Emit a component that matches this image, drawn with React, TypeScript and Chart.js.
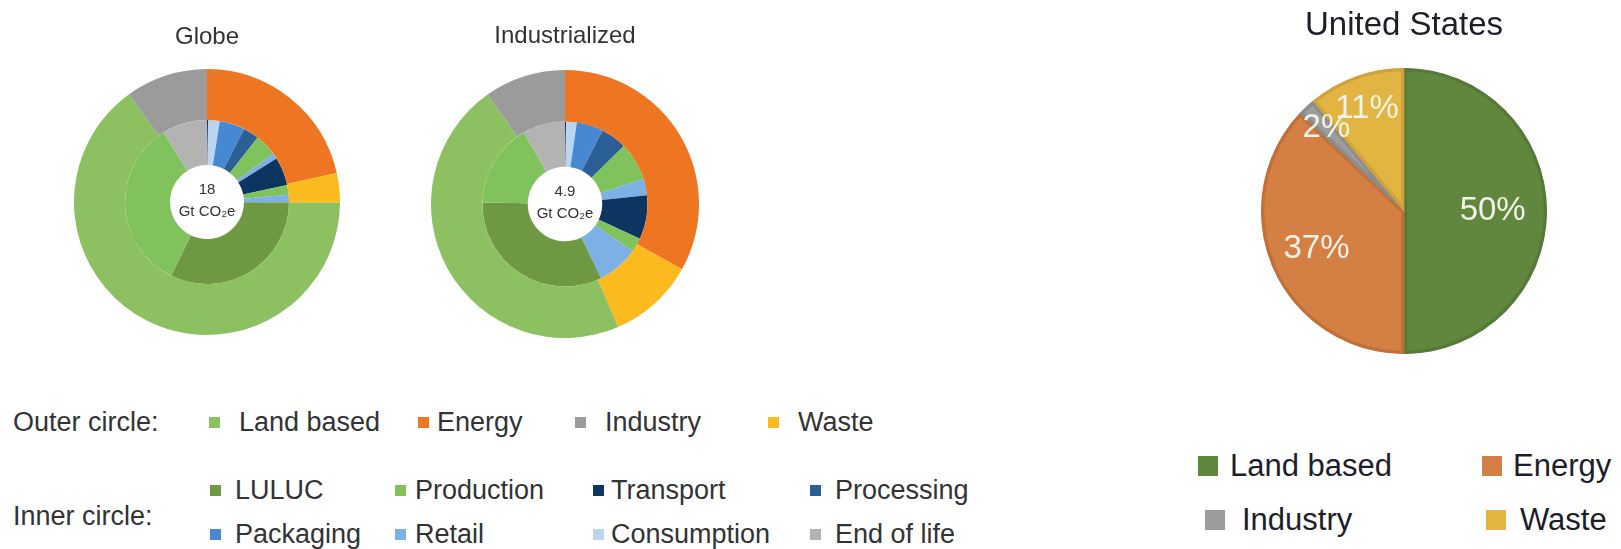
import React, { useEffect, useRef } from "react";
import { Chart, registerables } from "chart.js";

Chart.register(...registerables);

const FONT = '"Liberation Sans", Arial, Helvetica, sans-serif';

// ---------- DATA ----------
// Outer ring (clockwise from 12 o'clock), share of total emissions in %
const outerRingCategories = ["Energy", "Waste", "Land based", "Industry"];
const globeOuterValues = [21.5, 3.6, 64.9, 10.0];
const industrializedOuterValues = [33.1, 10.4, 46.7, 9.8];

// Inner ring (clockwise from 12 o'clock), share of total emissions in %
const innerRingCategories = [
  "Transport",
  "Consumption",
  "Packaging",
  "Processing",
  "Production",
  "Retail",
  "Transport",
  "Production",
  "Retail",
  "LULUC",
  "Production",
  "End of life",
];
const globeInnerValues = [0.2, 2.3, 5.0, 3.1, 4.4, 1.1, 5.6, 1.9, 1.5, 32.1, 33.9, 8.9];
const industrializedInnerValues = [0.2, 2.1, 5.2, 5.1, 7.5, 3.2, 8.6, 2.8, 8.1, 32.5, 16.4, 8.3];

const globeTotal = "18";
const industrializedTotal = "4.9";
const totalUnit = "Gt CO\u2082e";

// United States pie (clockwise from 12 o'clock), %
const usCategories = ["Land based", "Energy", "Industry", "Waste"];
const usValues = [50, 37, 2, 11];

// Legend lists
const outerLegendLabels = ["Land based", "Energy", "Industry", "Waste"];
const innerLegendRow1 = ["LULUC", "Production", "Transport", "Processing"];
const innerLegendRow2 = ["Packaging", "Retail", "Consumption", "End of life"];
const usLegendRow1 = ["Land based", "Energy"];
const usLegendRow2 = ["Industry", "Waste"];

// ---------- STYLES ----------
const outerColors: Record<string, string> = {
  "Land based": "#8CC060",
  Energy: "#EE7623",
  Industry: "#9B9B9B",
  Waste: "#FBBA1E",
};
const innerColors: Record<string, string> = {
  LULUC: "#6E9842",
  Production: "#80C35C",
  Transport: "#0D3562",
  Processing: "#2C5F96",
  Packaging: "#4688D2",
  Retail: "#7DB0E4",
  Consumption: "#BCD5EF",
  "End of life": "#B3B3B3",
};
const usColors: Record<string, string> = {
  "Land based": "#61873E",
  Energy: "#D48044",
  Industry: "#9C9C9C",
  Waste: "#E2B442",
};
const usBorderColors: Record<string, string> = {
  "Land based": "#557A37",
  Energy: "#C2703A",
  Industry: "#8C8C8C",
  Waste: "#D2A33A",
};

const centerTextPlugin = {
  id: "centerText",
  afterDatasetsDraw(chart: any, _args: any, opts: any) {
    if (!opts || !opts.lines) return;
    const arc = chart.getDatasetMeta(0).data[0];
    if (!arc) return;
    const { ctx } = chart;
    ctx.save();
    ctx.font = `${opts.size}px ${FONT}`;
    ctx.fillStyle = opts.color;
    ctx.textAlign = "center";
    ctx.textBaseline = "middle";
    const n = opts.lines.length;
    opts.lines.forEach((line: string, i: number) => {
      ctx.fillText(line, arc.x, arc.y + opts.shift + (i - (n - 1) / 2) * opts.gap);
    });
    ctx.restore();
  },
};

const sliceLabelPlugin = {
  id: "sliceLabels",
  afterDatasetsDraw(chart: any, _args: any, opts: any) {
    if (!opts || !opts.display) return;
    const { ctx } = chart;
    const ds = chart.data.datasets[0];
    const meta = chart.getDatasetMeta(0);
    ctx.save();
    ctx.font = `${opts.size}px ${FONT}`;
    ctx.fillStyle = opts.color;
    ctx.textAlign = "center";
    ctx.textBaseline = "middle";
    meta.data.forEach((arc: any, i: number) => {
      const v = ds.data[i] as number;
      const mid = (arc.startAngle + arc.endAngle) / 2;
      const frac = 0.62 + 0.18 * (1 - v / 50);
      const r = arc.outerRadius * frac;
      ctx.fillText(`${v}%`, arc.x + Math.cos(mid) * r, arc.y + Math.sin(mid) * r);
    });
    ctx.restore();
  },
};

type Box = { left: number; top: number; width: number; height: number; padTop: number; padBottom: number };

function RingChart(props: {
  title: string;
  outerValues: number[];
  innerValues: number[];
  total: string;
  box: Box;
}) {
  const ref = useRef<HTMLCanvasElement | null>(null);
  useEffect(() => {
    if (!ref.current) return;
    const chart = new Chart(ref.current, {
      type: "doughnut",
      data: {
        labels: outerRingCategories,
        datasets: [
          {
            data: props.outerValues,
            backgroundColor: outerRingCategories.map((c) => outerColors[c]),
            borderWidth: 0,
            weight: 51,
          } as any,
          {
            data: props.innerValues,
            backgroundColor: innerRingCategories.map((c) => innerColors[c]),
            borderWidth: 0,
            weight: 45,
          } as any,
        ],
      },
      options: {
        responsive: false,
        animation: false,
        events: [],
        cutout: "27.8%",
        plugins: {
          legend: { display: false },
          tooltip: { enabled: false },
          title: {
            display: true,
            text: props.title,
            color: "#333333",
            font: { family: FONT, size: 24, weight: "normal", lineHeight: 1.2 },
            padding: { top: props.box.padTop, bottom: props.box.padBottom },
          },
          centerText: { lines: [props.total, totalUnit], size: 15, color: "#333333", gap: 22, shift: -1 },
        } as any,
      },
      plugins: [centerTextPlugin],
    });
    return () => chart.destroy();
  }, []);
  const b = props.box;
  return (
    <canvas
      ref={ref}
      width={b.width}
      height={b.height}
      style={{ position: "absolute", left: b.left, top: b.top, width: b.width, height: b.height }}
    />
  );
}

function UsPie(props: { box: Box }) {
  const ref = useRef<HTMLCanvasElement | null>(null);
  useEffect(() => {
    if (!ref.current) return;
    const chart = new Chart(ref.current, {
      type: "pie",
      data: {
        labels: usCategories,
        datasets: [
          {
            data: usValues,
            backgroundColor: usCategories.map((c) => usColors[c]),
            borderColor: usCategories.map((c) => usBorderColors[c]),
            borderWidth: 3,
            borderAlign: "inner",
          } as any,
        ],
      },
      options: {
        responsive: false,
        animation: false,
        events: [],
        plugins: {
          legend: { display: false },
          tooltip: { enabled: false },
          title: {
            display: true,
            text: "United States",
            color: "#1E1E2A",
            font: { family: FONT, size: 33, weight: "normal", lineHeight: 1.2 },
            padding: { top: props.box.padTop, bottom: props.box.padBottom },
          },
          sliceLabels: { display: true, size: 33, color: "#F2F2E6" },
        } as any,
      },
      plugins: [sliceLabelPlugin],
    });
    return () => chart.destroy();
  }, []);
  const b = props.box;
  return (
    <canvas
      ref={ref}
      width={b.width}
      height={b.height}
      style={{ position: "absolute", left: b.left, top: b.top, width: b.width, height: b.height }}
    />
  );
}

function LegendItem(props: {
  label: string;
  color: string;
  sqX: number;
  txX: number;
  y: number;
  sq: number;
  size: number;
  textColor: string;
}) {
  const lh = Math.round(props.size * 1.15);
  const capOffset = (lh - 1.117 * props.size) / 2 + 0.905 * props.size - 0.358 * props.size;
  return (
    <>
      <div
        style={{
          position: "absolute",
          left: props.sqX,
          top: props.y - props.sq / 2,
          width: props.sq,
          height: props.sq,
          background: props.color,
        }}
      />
      <div
        style={{
          position: "absolute",
          left: props.txX,
          top: props.y - capOffset,
          fontFamily: FONT,
          fontSize: props.size,
          lineHeight: `${lh}px`,
          color: props.textColor,
          whiteSpace: "nowrap",
        }}
      >
        {props.label}
      </div>
    </>
  );
}

function TextAt(props: { text: string; x: number; y: number; size: number; color: string }) {
  const lh = Math.round(props.size * 1.15);
  const capOffset = (lh - 1.117 * props.size) / 2 + 0.905 * props.size - 0.358 * props.size;
  return (
    <div
      style={{
        position: "absolute",
        left: props.x,
        top: props.y - capOffset,
        fontFamily: FONT,
        fontSize: props.size,
        lineHeight: `${lh}px`,
        color: props.color,
        whiteSpace: "nowrap",
      }}
    >
      {props.text}
    </div>
  );
}

// legend layout (columns for square and text)
const leftOuterCols = [
  { sq: 209, tx: 239 },
  { sq: 418, tx: 437 },
  { sq: 575, tx: 605 },
  { sq: 768, tx: 798 },
];
const leftInnerCols = [
  { sq: 210, tx: 235 },
  { sq: 395, tx: 415 },
  { sq: 593, tx: 611 },
  { sq: 810, tx: 835 },
];
const usRow1Cols = [
  { sq: 1198, tx: 1230 },
  { sq: 1482, tx: 1513 },
];
const usRow2Cols = [
  { sq: 1205, tx: 1242 },
  { sq: 1486, tx: 1520 },
];

export default function App() {
  const legendText = "#333333";
  const usText = "#1E1E2A";
  return (
    <div
      style={{
        position: "absolute",
        left: 0,
        top: 0,
        width: 1621,
        height: 549,
        overflow: "hidden",
        background: "#ffffff",
      }}
    >
      <RingChart
        title="Globe"
        outerValues={globeOuterValues}
        innerValues={globeInnerValues}
        total={globeTotal}
        box={{ left: 74, top: 10, width: 266, height: 325, padTop: 12.6, padBottom: 17.6 }}
      />
      <RingChart
        title="Industrialized"
        outerValues={industrializedOuterValues}
        innerValues={industrializedInnerValues}
        total={industrializedTotal}
        box={{ left: 431, top: 10, width: 268, height: 328, padTop: 11.6, padBottom: 19.6 }}
      />
      <UsPie box={{ left: 1261, top: 2, width: 286, height: 352, padTop: 3.7, padBottom: 22.7 }} />

      <TextAt text="Outer circle:" x={13} y={422} size={27} color={legendText} />
      {outerLegendLabels.map((l, i) => (
        <LegendItem
          key={"o" + l}
          label={l}
          color={outerColors[l]}
          sqX={leftOuterCols[i].sq}
          txX={leftOuterCols[i].tx}
          y={422}
          sq={11}
          size={27}
          textColor={legendText}
        />
      ))}
      <TextAt text="Inner circle:" x={13} y={516} size={27} color={legendText} />
      {innerLegendRow1.map((l, i) => (
        <LegendItem
          key={"i1" + l}
          label={l}
          color={innerColors[l]}
          sqX={leftInnerCols[i].sq}
          txX={leftInnerCols[i].tx}
          y={490}
          sq={11}
          size={27}
          textColor={legendText}
        />
      ))}
      {innerLegendRow2.map((l, i) => (
        <LegendItem
          key={"i2" + l}
          label={l}
          color={innerColors[l]}
          sqX={leftInnerCols[i].sq}
          txX={leftInnerCols[i].tx}
          y={534}
          sq={11}
          size={27}
          textColor={legendText}
        />
      ))}

      {usLegendRow1.map((l, i) => (
        <LegendItem
          key={"u1" + l}
          label={l}
          color={usColors[l]}
          sqX={usRow1Cols[i].sq}
          txX={usRow1Cols[i].tx}
          y={466}
          sq={20}
          size={31}
          textColor={usText}
        />
      ))}
      {usLegendRow2.map((l, i) => (
        <LegendItem
          key={"u2" + l}
          label={l}
          color={usColors[l]}
          sqX={usRow2Cols[i].sq}
          txX={usRow2Cols[i].tx}
          y={520}
          sq={20}
          size={31}
          textColor={usText}
        />
      ))}
    </div>
  );
}
